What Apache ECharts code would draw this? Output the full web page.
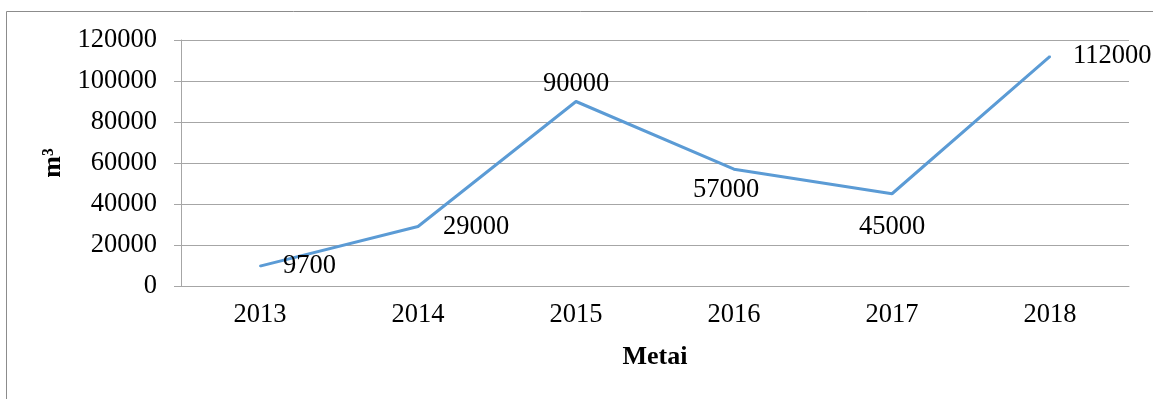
<!DOCTYPE html>
<html>
<head>
<meta charset="utf-8">
<script src="https://cdn.jsdelivr.net/npm/echarts@6/dist/echarts.min.js"></script>
<style>
  html, body { margin: 0; padding: 0; background: #fff; }
  #chart { width: 1153px; height: 399px; }
</style>
</head>
<body>
<div id="chart"></div>
<script>
// Yearly volumes (m³)
const years = ['2013', '2014', '2015', '2016', '2017', '2018'];
const volumes = [9700, 29000, 90000, 57000, 45000, 112000];
const labelPositions = ['right', 'right', 'top', 'bottom', 'bottom', 'right'];
const labelDistances = [22, 24, 3, 6, 19, 22];
const labelShiftX = [0, 0, 0, -8, 0, 0];

const FONT = '"Liberation Serif", "Times New Roman", serif';
const FS = 26.5;

const chart = echarts.init(document.getElementById('chart'), null, { renderer: 'canvas' });

chart.setOption({
  backgroundColor: '#fff',
  animation: false,
  graphic: [{
    type: 'rect',
    shape: { x: 6.5, y: 11.5, width: 1200, height: 500 },
    style: { fill: 'none', stroke: '#8c8c8c', lineWidth: 1 },
    silent: true
  }],
  grid: { left: 181, right: 24, top: 40, bottom: 113 },
  xAxis: {
    type: 'category',
    data: years,
    boundaryGap: true,
    axisTick: { show: false },
    axisLine: { lineStyle: { color: '#a6a6a6', width: 1 } },
    axisLabel: { color: '#000', fontFamily: FONT, fontSize: FS, margin: 16 },
    name: 'Metai',
    nameLocation: 'middle',
    nameGap: 58,
    nameTextStyle: { color: '#000', fontFamily: FONT, fontSize: 26, fontWeight: 'bold' }
  },
  yAxis: {
    type: 'value',
    min: 0,
    max: 120000,
    interval: 20000,
    axisLine: { show: true, lineStyle: { color: '#a6a6a6', width: 1 } },
    axisTick: { show: true, length: 7, lineStyle: { color: '#a6a6a6' } },
    splitLine: { show: true, lineStyle: { color: '#a6a6a6', width: 1 } },
    axisLabel: { color: '#000', fontFamily: FONT, fontSize: FS, margin: 24, formatter: v => String(v) },
    name: 'm³',
    nameLocation: 'middle',
    nameGap: 108,
    nameRotate: 90,
    nameTextStyle: { color: '#000', fontFamily: FONT, fontSize: 26, fontWeight: 'bold' }
  },
  series: [{
    type: 'line',
    data: volumes.map((v, i) => ({
      value: v,
      label: {
        show: true,
        position: labelPositions[i],
        distance: labelDistances[i],
        offset: [labelShiftX[i], 0]
      }
    })),
    symbol: 'circle',
    symbolSize: 2,
    showSymbol: true,
    lineStyle: { color: '#5b9bd5', width: 3 },
    itemStyle: { color: '#5b9bd5', borderWidth: 0 },
    label: {
      show: true,
      color: '#000',
      fontFamily: FONT,
      fontSize: FS,
      formatter: p => String(p.value)
    }
  }]
});
</script>
</body>
</html>
